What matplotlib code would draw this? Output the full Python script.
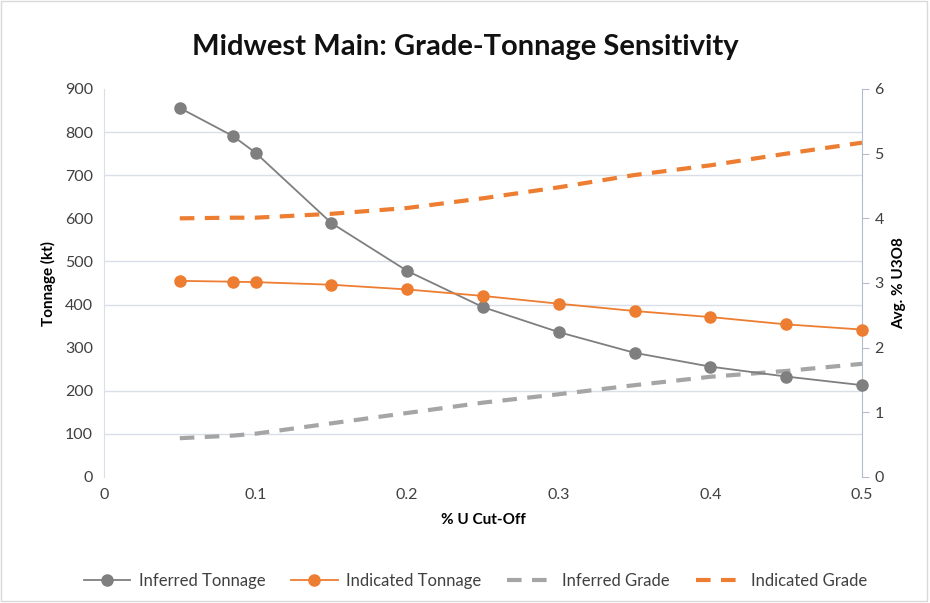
import matplotlib.pyplot as plt
from matplotlib.patches import Rectangle

plt.rcParams['font.family'] = ['Lato', 'DejaVu Sans']

cutoff = [0.05, 0.085, 0.1, 0.15, 0.2, 0.25, 0.3, 0.35, 0.4, 0.45, 0.5]
inferred_tonnage = [856, 791, 752, 589, 478, 394, 336, 288, 256, 233, 213]
indicated_tonnage = [455, 453, 452, 446, 435, 420, 402, 385, 371, 354, 342]
inferred_grade = [0.60, 0.64, 0.67, 0.83, 0.99, 1.15, 1.28, 1.42, 1.55, 1.64, 1.75]
indicated_grade = [4.00, 4.01, 4.01, 4.07, 4.16, 4.31, 4.48, 4.67, 4.82, 5.00, 5.17]

grey = '#7f7f7f'
orange = '#ed7d31'
light_grey = '#a5a5a5'
grid_col = '#d9dee8'

fig = plt.figure(figsize=(9.3, 6.03), dpi=100)
ax = fig.add_axes([104 / 930, 1 - 477 / 603, 758 / 930, 388 / 603])
ax2 = ax.twinx()
ax.set_zorder(ax2.get_zorder() + 1)
ax.patch.set_visible(False)

l1, = ax.plot(cutoff, inferred_tonnage, color=grey, lw=1.3, marker='o', ms=8,
              label='Inferred Tonnage', clip_on=False, zorder=4)
l2, = ax.plot(cutoff, indicated_tonnage, color=orange, lw=1.3, marker='o', ms=8,
              label='Indicated Tonnage', clip_on=False, zorder=4)
l3, = ax2.plot(cutoff, inferred_grade, color=light_grey, lw=3, ls=(0, (3.5, 2.5)),
               label='Inferred Grade')
l4, = ax2.plot(cutoff, indicated_grade, color=orange, lw=3, ls=(0, (3.5, 2.5)),
               label='Indicated Grade')

ax.set_xlim(0, 0.5)
ax.set_ylim(0, 900)
ax2.set_ylim(0, 6)
ax.set_xticks([0, 0.1, 0.2, 0.3, 0.4, 0.5])
ax.set_xticklabels(['0', '0.1', '0.2', '0.3', '0.4', '0.5'])
ax.set_yticks(range(0, 901, 100))
ax2.set_yticks(range(0, 7))

# gridlines live on the twin axes so they sit under every series
ax2.set_xticks([0, 0.1, 0.2, 0.3, 0.4, 0.5])
ax2.set_yticks([i * 6 / 9 for i in range(10)], minor=True)
ax2.grid(True, which='minor', axis='y', color=grid_col, lw=1)
ax2.grid(True, which='major', axis='x', color=grid_col, lw=1)
ax2.tick_params(axis='y', which='minor', length=0)
ax2.tick_params(axis='x', length=0, labelbottom=False)

for a in (ax, ax2):
    for s in a.spines.values():
        s.set_visible(False)
ax2.spines['right'].set_visible(True)
ax2.spines['right'].set_color('#b4bccb')
ax2.spines['left'].set_visible(True)
ax2.spines['left'].set_color(grid_col)

ax.tick_params(axis='both', length=0, labelsize=11.5, colors='#404040', pad=8)
ax2.tick_params(axis='y', which='major', length=5, color='#b4bccb', labelsize=11.5,
                labelcolor='#404040', pad=4)

ax.set_xlabel('% U Cut-Off', fontsize=11, fontweight='bold', labelpad=8)
ax.set_ylabel('Tonnage (kt)', fontsize=11, fontweight='bold', labelpad=6)
ax2.set_ylabel('Avg. % U3O8', fontsize=11, fontweight='bold', labelpad=6)

fig.text(0.5, 1 - 47 / 603, 'Midwest Main: Grade-Tonnage Sensitivity',
         ha='center', va='center', fontsize=21, fontweight='bold', color='#111111')

fig.legend(handles=[l1, l2, l3, l4], loc='center', bbox_to_anchor=(0.511, 1 - 581 / 603),
           ncol=4, frameon=False, fontsize=12, handlelength=2.8, columnspacing=1.55,
           handletextpad=0.5, labelcolor='#404040')

fig.patches.append(Rectangle((0.001, 0.004), 0.996, 0.994, transform=fig.transFigure,
                             fill=False, edgecolor='#d9d9d9', lw=1))

fig.savefig('out.png', dpi=100)
